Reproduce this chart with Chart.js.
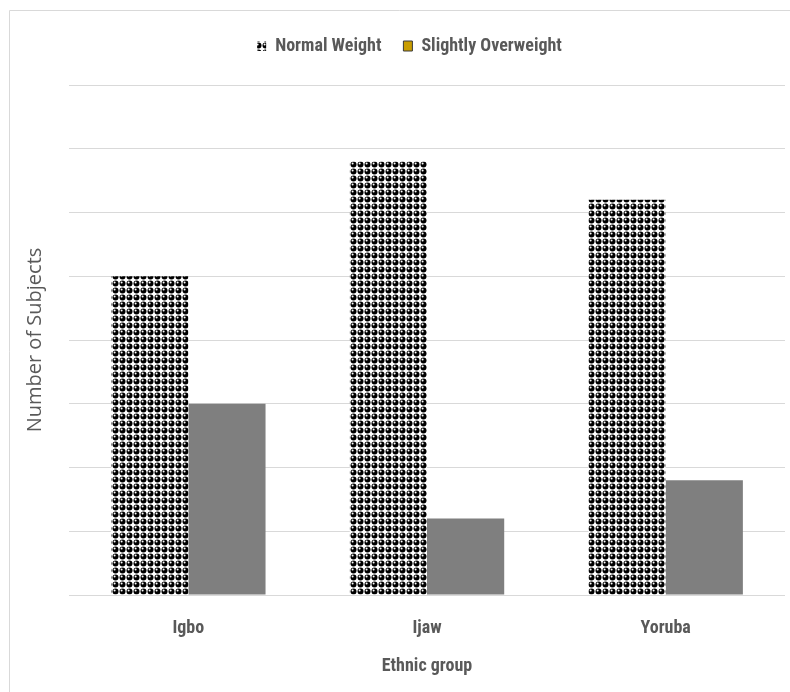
<!DOCTYPE html>
<html>
<head>
<meta charset="utf-8">
<script src="https://cdn.jsdelivr.net/npm/chart.js@4.4.1/dist/chart.umd.min.js"></script>
<style>
  html, body { margin: 0; padding: 0; background: #ffffff; }
  #wrap { width: 790px; height: 692px; position: relative; }
</style>
</head>
<body>
<div id="wrap"><canvas id="c" width="790" height="692"></canvas></div>
<script>
const categories = ['Igbo', 'Ijaw', 'Yoruba'];
const normalWeight = [25, 34, 31];
const slightlyOverweight = [15, 6, 9];
const seriesNames = ['Normal Weight', 'Slightly Overweight'];
const yMax = 40;
const yStep = 5;
const xTitle = 'Ethnic group';
const yTitle = 'Number of Subjects';

const TEXT = '#595959';
const GRID = '#d9d9d9';
const GRAY_BAR = '#7f7f7f';
const GOLD = '#c99d00';
const NARROW = '"Liberation Sans Narrow", "Roboto Condensed", "Arial Narrow", sans-serif';

const canvas = document.getElementById('c');
const ctx = canvas.getContext('2d');

function makePattern() {
  const s = 14;
  const h = s / 4;
  const c = document.createElement('canvas');
  c.width = s; c.height = s;
  const g = c.getContext('2d');
  g.fillStyle = '#ffffff';
  g.fillRect(0, 0, s, s);
  const pts = [[h, h], [3 * h, h], [h, 3 * h], [3 * h, 3 * h]];
  g.fillStyle = '#000000';
  for (const [x, y] of pts) {
    g.beginPath(); g.arc(x, y, 3.0, 0, Math.PI * 2); g.fill();
  }
  g.fillStyle = '#ffffff';
  for (const [x, y] of pts) {
    g.beginPath(); g.arc(x - 0.9, y - 0.9, 1.0, 0, Math.PI * 2); g.fill();
  }
  return ctx.createPattern(c, 'repeat');
}
const dotPattern = makePattern();

const framePlugin = {
  id: 'frame',
  beforeLayout(chart) {
    const L = chart.legend;
    if (L && !L._patched) {
      const f = L.fit.bind(L);
      L.fit = function () { f(); this.height += 20; };
      const d = L.draw.bind(L);
      L.draw = function () {
        const g = this.ctx;
        g.save();
        g.translate(17, 0);
        d();
        g.restore();
      };
      L._patched = true;
    }
  },
  beforeDraw(chart) {
    const g = chart.ctx;
    g.save();
    g.strokeStyle = GRID;
    g.lineWidth = 1;
    g.beginPath();
    g.moveTo(9.5, 692);
    g.lineTo(9.5, 10.5);
    g.lineTo(790, 10.5);
    g.stroke();
    g.restore();
  }
};

new Chart(ctx, {
  type: 'bar',
  data: {
    labels: categories,
    datasets: [
      {
        label: seriesNames[0],
        data: normalWeight,
        backgroundColor: dotPattern,
        borderWidth: 0,
        categoryPercentage: 0.647,
        barPercentage: 1.0
      },
      {
        label: seriesNames[1],
        data: slightlyOverweight,
        backgroundColor: GRAY_BAR,
        borderWidth: 0,
        categoryPercentage: 0.647,
        barPercentage: 1.0
      }
    ]
  },
  options: {
    responsive: false,
    animation: false,
    devicePixelRatio: 1,
    layout: { padding: { left: 0, right: 5, top: 15, bottom: 0 } },
    plugins: {
      tooltip: { enabled: false },
      legend: {
        display: true,
        position: 'top',
        labels: {
          color: TEXT,
          font: { family: NARROW, size: 18, weight: 'bold' },
          boxWidth: 9,
          boxHeight: 10,
          padding: 22,
          generateLabels(chart) {
            const items = Chart.defaults.plugins.legend.labels.generateLabels(chart);
            items.forEach((it, i) => {
              if (i === 1) {
                it.fillStyle = GOLD;
                it.strokeStyle = '#3a3a3a';
                it.lineWidth = 1;
              } else {
                it.fillStyle = dotPattern;
                it.strokeStyle = '#000';
                it.lineWidth = 0;
              }
            });
            return items;
          }
        }
      }
    },
    scales: {
      x: {
        grid: { display: false, drawTicks: false },
        border: { display: false },
        ticks: {
          color: TEXT,
          font: { family: NARROW, size: 18, weight: 'bold' },
          padding: 23
        },
        title: {
          display: true,
          text: xTitle,
          color: TEXT,
          font: { family: NARROW, size: 18, weight: 'bold' },
          padding: { top: 0, bottom: 15 }
        },
        afterFit(scale) { scale.height = 97; }
      },
      y: {
        min: 0,
        max: yMax,
        ticks: { stepSize: yStep, display: false },
        grid: { color: GRID, lineWidth: 1, drawTicks: false },
        border: { display: false },
        title: {
          display: true,
          text: yTitle,
          color: TEXT,
          font: { family: '"Open Sans", sans-serif', size: 20, weight: 'normal' },
          padding: { top: 23, bottom: 0 }
        },
        afterFit(scale) { scale.width = 69; }
      }
    }
  },
  plugins: [framePlugin]
});
</script>
</body>
</html>
